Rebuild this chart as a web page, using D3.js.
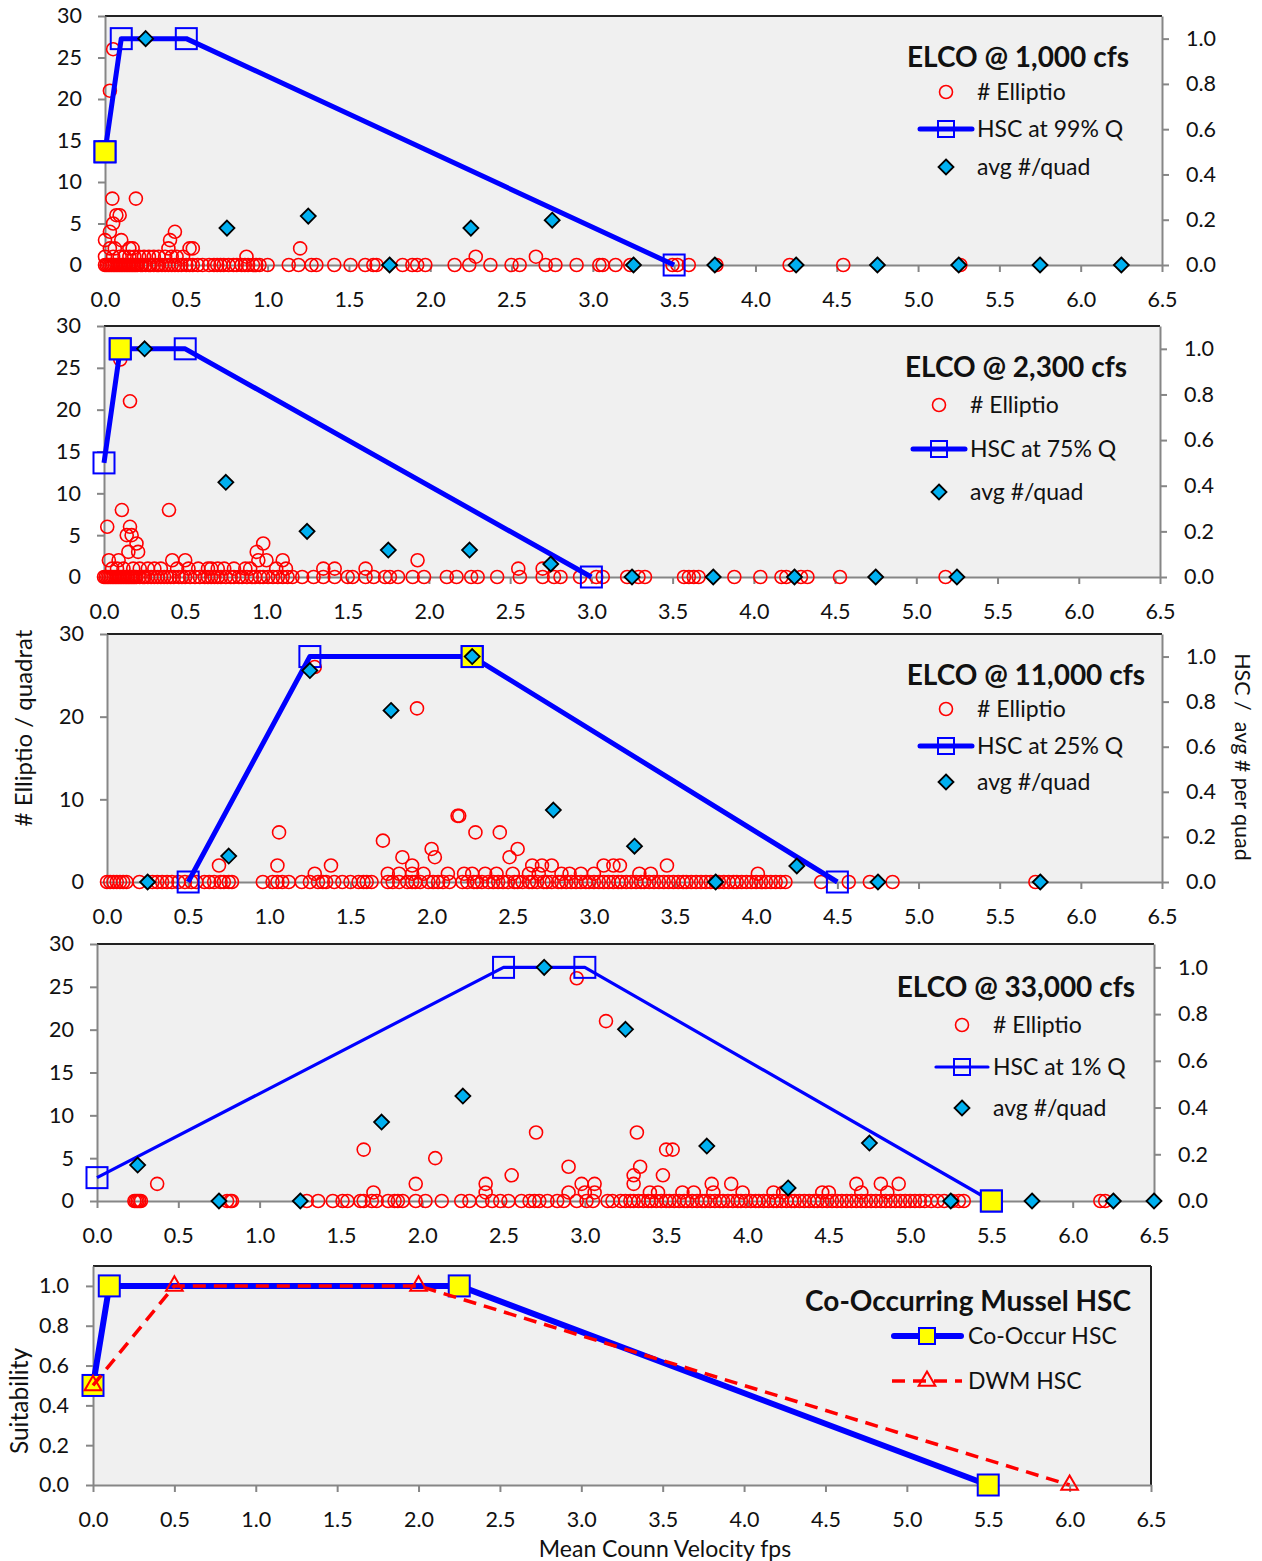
<!DOCTYPE html>
<html>
<head>
<meta charset="utf-8">
<script src="https://cdn.jsdelivr.net/npm/d3@7"></script>
<style>
body { margin: 0; background: #fff; }
</style>
</head>
<body>
<svg id="chart" width="1262" height="1561"></svg>
<script>
var FONT = "Lato, 'Open Sans', sans-serif";

// tick labels
var xTicks = [0.0, 0.5, 1.0, 1.5, 2.0, 2.5, 3.0, 3.5, 4.0, 4.5, 5.0, 5.5, 6.0, 6.5];
var countTicks = [0, 5, 10, 15, 20, 25, 30];
var countTicks10 = [0, 10, 20, 30];
var hscTicks = [0.0, 0.2, 0.4, 0.6, 0.8, 1.0];

var titles = ["ELCO @ 1,000 cfs", "ELCO @ 2,300 cfs", "ELCO @ 11,000 cfs", "ELCO @ 33,000 cfs"];
var hscNames = ["HSC at 99% Q", "HSC at 75% Q", "HSC at 25% Q", "HSC at 1% Q"];

// ---- 1,000 cfs ----
var p1Zero = [0.00,0.01,0.02,0.03,0.04,0.05,0.06,0.07,0.08,0.09,0.10,0.11,0.12,0.13,0.14,0.15,0.16,0.17,0.18,0.19,0.20,0.22,0.23,0.25,0.27,0.28,0.30,0.32,0.33,0.35,0.37,0.39,0.41,0.43,0.45,0.47,0.50,0.52,0.54,0.57,0.60,0.64,0.67,0.69,0.71,0.73,0.76,0.79,0.81,0.84,0.86,0.88,0.91,0.93,0.95,1.00,1.13,1.19,1.27,1.30,1.41,1.51,1.60,1.65,1.67,1.83,1.89,1.92,1.97,2.15,2.24,2.37,2.50,2.55,2.71,2.77,2.90,3.04,3.06,3.14,3.23,3.49,3.52,3.59,3.76,4.21,4.54,5.26];
var p1Count = [[0.05,26],[0.03,21],[0.045,8],[0.19,8],[0.07,6],[0.09,6],[0.05,5],[0.03,4],[0.43,4],[0.40,3],[0.00,3],[0.10,3],[0.03,2],[0.06,2],[0.15,2],[0.17,2],[0.39,2],[0.52,2],[0.54,2],[1.20,2],[0.00,1],[0.05,1],[0.09,1],[0.12,1],[0.15,1],[0.18,1],[0.21,1],[0.24,1],[0.27,1],[0.30,1],[0.33,1],[0.37,1],[0.41,1],[0.44,1],[0.48,1],[0.87,1],[2.28,1],[2.65,1]];
var p1Hsc = [[0,0.5],[0.1,1.0],[0.5,1.0],[3.5,0]];
var p1Co = [[0,0.5]];
var p1Avg = [[0.25,1.0],[0.75,0.163],[1.25,0.216],[1.75,0],[2.25,0.163],[2.75,0.198],[3.25,0],[3.75,0],[4.25,0],[4.75,0],[5.25,0],[5.75,0],[6.25,0]];

// ---- 2,300 cfs ----
var p2Zero = [0.00,0.01,0.02,0.03,0.04,0.05,0.06,0.07,0.08,0.09,0.10,0.11,0.12,0.13,0.14,0.15,0.16,0.17,0.18,0.19,0.20,0.22,0.24,0.25,0.27,0.29,0.31,0.33,0.35,0.37,0.39,0.41,0.43,0.46,0.48,0.50,0.53,0.56,0.59,0.62,0.64,0.66,0.68,0.70,0.72,0.75,0.78,0.80,0.83,0.85,0.88,0.91,0.93,0.96,0.98,1.01,1.04,1.07,1.10,1.13,1.16,1.22,1.29,1.35,1.42,1.50,1.53,1.61,1.66,1.73,1.76,1.81,1.90,1.97,2.11,2.17,2.26,2.30,2.42,2.56,2.70,2.77,2.81,2.93,3.03,3.07,3.22,3.29,3.33,3.57,3.60,3.63,3.66,3.88,4.04,4.17,4.20,4.29,4.33,4.53,5.18];
var p2Count = [[0.10,26],[0.16,21],[0.11,8],[0.40,8],[0.02,6],[0.16,6],[0.17,5],[0.14,5],[0.20,4],[0.15,3],[0.21,3],[0.98,4],[0.94,3],[0.03,2],[0.09,2],[0.42,2],[0.50,2],[0.95,2],[1.00,2],[1.10,2],[1.93,2],[0.05,1],[0.08,1],[0.12,1],[0.18,1],[0.22,1],[0.27,1],[0.31,1],[0.35,1],[0.45,1],[0.52,1],[0.58,1],[0.64,1],[0.66,1],[0.70,1],[0.74,1],[0.80,1],[0.87,1],[0.90,1],[1.06,1],[1.12,1],[1.35,1],[1.42,1],[1.61,1],[2.55,1],[2.70,1]];
var p2Hsc = [[0,0.5],[0.1,1.0],[0.5,1.0],[3.0,0]];
var p2Co = [[0.1,1.0]];
var p2Avg = [[0.25,1.0],[0.75,0.415],[1.25,0.20],[1.75,0.118],[2.25,0.118],[2.75,0.057],[3.25,0],[3.75,0],[4.25,0],[4.75,0],[5.25,0]];

// ---- 11,000 cfs ----
var p3Zero = [0.00,0.02,0.04,0.06,0.08,0.10,0.12,0.20,0.28,0.31,0.34,0.37,0.40,0.44,0.48,0.52,0.55,0.60,0.63,0.66,0.70,0.72,0.75,0.77,0.96,1.02,1.05,1.08,1.12,1.20,1.25,1.30,1.33,1.35,1.40,1.45,1.50,1.55,1.58,1.60,1.63,1.73,1.76,1.80,1.85,1.88,1.90,1.93,1.98,2.01,2.04,2.07,2.11,2.19,2.22,2.26,2.28,2.31,2.35,2.38,2.41,2.44,2.47,2.51,2.53,2.56,2.60,2.62,2.65,2.69,2.71,2.74,2.78,2.80,2.83,2.86,2.89,2.92,2.95,2.97,3.00,3.03,3.06,3.09,3.12,3.15,3.17,3.20,3.23,3.26,3.29,3.31,3.34,3.37,3.40,3.43,3.46,3.49,3.52,3.55,3.57,3.60,3.63,3.66,3.69,3.72,3.75,3.77,3.80,3.83,3.86,3.88,3.91,3.94,3.97,4.00,4.03,4.06,4.09,4.12,4.15,4.18,4.40,4.57,4.70,4.84,5.72];
var p3Count = [[0.69,2],[1.06,6],[1.05,2],[1.28,26],[1.28,1],[1.38,2],[1.70,5],[1.91,21],[1.82,3],[1.88,2],[2.00,4],[2.02,3],[1.73,1],[1.80,1],[1.88,1],[1.95,1],[2.10,1],[2.16,8],[2.17,8],[2.27,6],[2.42,6],[2.53,4],[2.48,3],[2.62,2],[2.68,2],[2.74,2],[3.06,2],[3.12,2],[3.16,2],[3.45,2],[2.20,1],[2.25,1],[2.33,1],[2.40,1],[2.50,1],[2.60,1],[2.66,1],[2.80,1],[2.85,1],[2.92,1],[3.00,1],[3.28,1],[3.35,1],[4.01,1]];
var p3Hsc = [[0.5,0],[1.25,1.0],[2.25,1.0],[4.5,0]];
var p3Co = [[2.25,1.0]];
var p3Avg = [[0.25,0],[0.75,0.115],[1.25,0.938],[1.75,0.761],[2.25,1.0],[2.75,0.319],[3.25,0.159],[3.75,0],[4.25,0.071],[4.75,0],[5.75,0]];

// ---- 33,000 cfs ----
var p4Zero = [0.23,0.24,0.25,0.26,0.27,0.80,0.82,0.83,1.29,1.36,1.45,1.51,1.54,1.62,1.64,1.69,1.72,1.79,1.83,1.85,1.88,1.96,2.02,2.12,2.24,2.29,2.37,2.43,2.48,2.53,2.61,2.66,2.69,2.72,2.77,2.83,2.87,2.95,3.01,3.05,3.14,3.17,3.22,3.25,3.28,3.30,3.33,3.36,3.39,3.41,3.44,3.47,3.50,3.52,3.55,3.58,3.61,3.63,3.66,3.69,3.72,3.74,3.77,3.80,3.83,3.85,3.88,3.91,3.94,3.96,3.99,4.02,4.05,4.07,4.10,4.13,4.16,4.18,4.21,4.24,4.27,4.29,4.32,4.35,4.38,4.41,4.43,4.46,4.49,4.52,4.55,4.58,4.61,4.64,4.67,4.70,4.73,4.76,4.79,4.82,4.85,4.88,4.91,4.94,4.97,5.00,5.03,5.06,5.09,5.13,5.17,5.21,5.26,5.30,5.33,6.17,6.20];
var p4Count = [[0.37,2],[1.64,6],[1.70,1],[1.96,2],[2.08,5],[2.39,2],[2.39,1],[2.55,3],[2.70,8],[2.90,4],[2.98,2],[3.06,2],[2.90,1],[3.00,1],[3.06,1],[2.95,26],[3.13,21],[3.32,8],[3.50,6],[3.54,6],[3.34,4],[3.30,3],[3.48,3],[3.30,2],[3.78,2],[3.90,2],[3.40,1],[3.45,1],[3.60,1],[3.67,1],[3.79,1],[3.97,1],[4.16,1],[4.22,1],[4.46,1],[4.50,1],[4.67,2],[4.82,2],[4.93,2],[4.70,1],[4.86,1]];
var p4Hsc = [[0,0.1],[2.5,1.0],[3.0,1.0],[5.5,0]];
var p4Co = [[5.5,0]];
var p4Avg = [[0.25,0.154],[0.75,0],[1.25,0],[1.75,0.338],[2.25,0.449],[2.75,1.0],[3.25,0.735],[3.75,0.235],[4.25,0.056],[4.75,0.248],[5.25,0],[5.75,0],[6.25,0],[6.5,0]];

// ---- combined HSC ----
var coOccurHsc = [[0,0.5],[0.1,1.0],[2.25,1.0],[5.5,0]];
var dwmHsc = [[0,0.5],[0.5,1.0],[2.0,1.0],[6.0,0]];

var svg = d3.select("#chart");

var panels = [
  {left:105, right:1162, top:16,  bottom:265, yTicks:countTicks,   lw:5,   zero:p1Zero, count:p1Count, hsc:p1Hsc, co:p1Co, avg:p1Avg,
   leg:{titleX:1129, titleY:57,  mx:946, tx:977, rows:[92,129,167]}},
  {left:104, right:1160, top:326, bottom:577, yTicks:countTicks,   lw:5,   zero:p2Zero, count:p2Count, hsc:p2Hsc, co:p2Co, avg:p2Avg,
   leg:{titleX:1127, titleY:367, mx:939, tx:970, rows:[405,449,492]}},
  {left:107, right:1162, top:634, bottom:882, yTicks:countTicks10, lw:5,   zero:p3Zero, count:p3Count, hsc:p3Hsc, co:p3Co, avg:p3Avg,
   leg:{titleX:1145, titleY:675, mx:946, tx:977, rows:[709,746,782]}},
  {left:97,  right:1154, top:944, bottom:1201, yTicks:countTicks,  lw:3.2, zero:p4Zero, count:p4Count, hsc:p4Hsc, co:p4Co, avg:p4Avg,
   leg:{titleX:1135, titleY:987, mx:962, tx:993, rows:[1025,1067,1108]}}
];

function styleAxis(g) {
  g.attr("font-family", FONT).attr("font-size", 21.5);
  g.select(".domain").attr("stroke", "#868686").attr("stroke-width", 2);
  g.selectAll(".tick line").attr("stroke", "#868686").attr("stroke-width", 2);
  g.selectAll(".tick text").attr("fill", "#111");
}

function frame(g, p, xs, blackRight) {
  g.append("rect")
    .attr("x", p.left).attr("y", p.top)
    .attr("width", p.right - p.left).attr("height", p.bottom - p.top)
    .attr("fill", "#f0f0f0");
  g.append("line")
    .attr("x1", p.left).attr("x2", p.right).attr("y1", p.top).attr("y2", p.top)
    .attr("stroke", "#222").attr("stroke-width", 2);
  if (blackRight) {
    g.append("line")
      .attr("x1", p.right).attr("x2", p.right).attr("y1", p.top).attr("y2", p.bottom)
      .attr("stroke", "#222").attr("stroke-width", 2);
  }
  g.append("g")
    .attr("transform", "translate(0," + p.bottom + ")")
    .call(d3.axisBottom(xs).tickValues(xTicks).tickFormat(d3.format(".1f"))
      .tickSize(7).tickSizeOuter(0).tickPadding(20))
    .call(styleAxis);
}

function diamond(sel) {
  sel.attr("d", "M0,-7.5L7.5,0L0,7.5L-7.5,0Z")
    .attr("fill", "#00B0F0").attr("stroke", "#000").attr("stroke-width", 1.8);
}

function drawPanel(p, i) {
  var g = svg.append("g");
  var x = d3.scaleLinear().domain([0, 6.5]).range([p.left, p.right]);
  var y = d3.scaleLinear().domain([0, 30]).range([p.bottom, p.top]);
  var y2 = d3.scaleLinear().domain([0, 1.1]).range([p.bottom, p.top]);

  frame(g, p, x, false);
  g.append("g")
    .attr("transform", "translate(" + p.left + ",0)")
    .call(d3.axisLeft(y).tickValues(p.yTicks).tickSize(7).tickSizeOuter(0).tickPadding(16))
    .call(styleAxis);
  g.append("g")
    .attr("transform", "translate(" + p.right + ",0)")
    .call(d3.axisRight(y2).tickValues(hscTicks).tickFormat(d3.format(".1f"))
      .tickSize(7).tickSizeOuter(0).tickPadding(17))
    .call(styleAxis);

  // # Elliptio per quadrat
  var pts = p.zero.map(function(v) { return [v, 0]; }).concat(p.count);
  g.append("g").selectAll("circle")
    .data(pts)
    .enter().append("circle")
      .attr("cx", function(d) { return x(d[0]); })
      .attr("cy", function(d) { return y(d[1]); })
      .attr("r", 6.5)
      .attr("fill", "none").attr("stroke", "#FF0000").attr("stroke-width", 1.6);

  // HSC line
  var line = d3.line().x(function(d) { return x(d[0]); }).y(function(d) { return y2(d[1]); });
  g.append("path").datum(p.hsc)
    .attr("d", line).attr("fill", "none")
    .attr("stroke", "#0000FF").attr("stroke-width", p.lw).attr("stroke-linejoin", "round");
  g.append("g").selectAll("rect")
    .data(p.hsc)
    .enter().append("rect")
      .attr("x", function(d) { return x(d[0]) - 10.5; })
      .attr("y", function(d) { return y2(d[1]) - 10.5; })
      .attr("width", 21).attr("height", 21)
      .attr("fill", "none").attr("stroke", "#0000FF").attr("stroke-width", 2);
  g.append("g").selectAll("rect")
    .data(p.co)
    .enter().append("rect")
      .attr("x", function(d) { return x(d[0]) - 10.5; })
      .attr("y", function(d) { return y2(d[1]) - 10.5; })
      .attr("width", 21).attr("height", 21)
      .attr("fill", "#FFFF00").attr("stroke", "#0000FF").attr("stroke-width", 2);

  // avg #/quad
  g.append("g").selectAll("path")
    .data(p.avg)
    .enter().append("path")
      .attr("transform", function(d) { return "translate(" + x(d[0]) + "," + y2(d[1]) + ")"; })
      .call(diamond);

  // legend
  var L = p.leg;
  g.append("text")
    .attr("x", L.titleX).attr("y", L.titleY).attr("dy", "0.35em")
    .attr("text-anchor", "end").attr("font-family", FONT)
    .attr("font-size", 28).attr("font-weight", "bold").attr("fill", "#111")
    .text(titles[i]);
  g.append("circle").attr("cx", L.mx).attr("cy", L.rows[0]).attr("r", 6.5)
    .attr("fill", "none").attr("stroke", "#FF0000").attr("stroke-width", 1.6);
  g.append("line").attr("x1", L.mx - 26).attr("x2", L.mx + 26)
    .attr("y1", L.rows[1]).attr("y2", L.rows[1])
    .attr("stroke", "#0000FF").attr("stroke-width", p.lw).attr("stroke-linecap", "round");
  g.append("rect").attr("x", L.mx - 8).attr("y", L.rows[1] - 8).attr("width", 16).attr("height", 16)
    .attr("fill", "none").attr("stroke", "#0000FF").attr("stroke-width", 2);
  g.append("path").attr("transform", "translate(" + L.mx + "," + L.rows[2] + ")").call(diamond);
  var labels = ["# Elliptio", hscNames[i], "avg #/quad"];
  labels.forEach(function(t, k) {
    g.append("text")
      .attr("x", L.tx).attr("y", L.rows[k]).attr("dy", "0.35em")
      .attr("font-family", FONT).attr("font-size", 23).attr("fill", "#111")
      .text(t);
  });
}

panels.forEach(drawPanel);

// ---- co-occurring panel ----
var p5 = {left:93, right:1151, top:1266, bottom:1485};
var g5 = svg.append("g");
var x5 = d3.scaleLinear().domain([0, 6.5]).range([p5.left, p5.right]);
var y5 = d3.scaleLinear().domain([0, 1.1]).range([p5.bottom, p5.top]);
frame(g5, p5, x5, true);
g5.append("g")
  .attr("transform", "translate(" + p5.left + ",0)")
  .call(d3.axisLeft(y5).tickValues(hscTicks).tickFormat(d3.format(".1f"))
    .tickSize(7).tickSizeOuter(0).tickPadding(17))
  .call(styleAxis);

var line5 = d3.line().x(function(d) { return x5(d[0]); }).y(function(d) { return y5(d[1]); });
g5.append("path").datum(coOccurHsc)
  .attr("d", line5).attr("fill", "none")
  .attr("stroke", "#0000FF").attr("stroke-width", 6).attr("stroke-linejoin", "round");
g5.append("g").selectAll("rect")
  .data(coOccurHsc)
  .enter().append("rect")
    .attr("x", function(d) { return x5(d[0]) - 10.5; })
    .attr("y", function(d) { return y5(d[1]) - 10.5; })
    .attr("width", 21).attr("height", 21)
    .attr("fill", "#FFFF00").attr("stroke", "#0000FF").attr("stroke-width", 2);
g5.append("path").datum(dwmHsc)
  .attr("d", line5).attr("fill", "none")
  .attr("stroke", "#FF0000").attr("stroke-width", 3.5).attr("stroke-dasharray", "13,8");
var tri = d3.symbol().type(d3.symbolTriangle).size(120);
g5.append("g").selectAll("path")
  .data(dwmHsc)
  .enter().append("path")
    .attr("d", tri)
    .attr("transform", function(d) { return "translate(" + x5(d[0]) + "," + y5(d[1]) + ")"; })
    .attr("fill", "none").attr("stroke", "#FF0000").attr("stroke-width", 2);

g5.append("text")
  .attr("x", 1131).attr("y", 1301).attr("dy", "0.35em")
  .attr("text-anchor", "end").attr("font-family", FONT)
  .attr("font-size", 28).attr("font-weight", "bold").attr("fill", "#111")
  .text("Co-Occurring Mussel HSC");
g5.append("line").attr("x1", 894).attr("x2", 961).attr("y1", 1336).attr("y2", 1336)
  .attr("stroke", "#0000FF").attr("stroke-width", 6).attr("stroke-linecap", "round");
g5.append("rect").attr("x", 919).attr("y", 1328).attr("width", 16).attr("height", 16)
  .attr("fill", "#FFFF00").attr("stroke", "#0000FF").attr("stroke-width", 2);
g5.append("line").attr("x1", 892).attr("x2", 962).attr("y1", 1381).attr("y2", 1381)
  .attr("stroke", "#FF0000").attr("stroke-width", 3.5).attr("stroke-dasharray", "13,8");
g5.append("path").attr("d", tri).attr("transform", "translate(927,1381)")
  .attr("fill", "none").attr("stroke", "#FF0000").attr("stroke-width", 2);
g5.append("text").attr("x", 968).attr("y", 1336).attr("dy", "0.35em")
  .attr("font-family", FONT).attr("font-size", 23).attr("fill", "#111").text("Co-Occur HSC");
g5.append("text").attr("x", 968).attr("y", 1381).attr("dy", "0.35em")
  .attr("font-family", FONT).attr("font-size", 23).attr("fill", "#111").text("DWM HSC");

// axis titles
svg.append("text")
  .attr("transform", "translate(24,728) rotate(-90)").attr("dy", "0.35em")
  .attr("text-anchor", "middle").attr("font-family", FONT).attr("font-size", 24).attr("fill", "#111")
  .text("# Elliptio / quadrat");
svg.append("text")
  .attr("transform", "translate(1243,757) rotate(90)").attr("dy", "0.35em")
  .attr("text-anchor", "middle").attr("font-family", FONT).attr("font-size", 21.5).attr("fill", "#111")
  .style("white-space", "pre")
  .text("HSC /  avg # per quad");
svg.append("text")
  .attr("transform", "translate(19,1401) rotate(-90)").attr("dy", "0.35em")
  .attr("text-anchor", "middle").attr("font-family", FONT).attr("font-size", 24.5).attr("fill", "#111")
  .text("Suitability");
svg.append("text")
  .attr("x", 665).attr("y", 1549).attr("dy", "0.35em")
  .attr("text-anchor", "middle").attr("font-family", FONT).attr("font-size", 23).attr("fill", "#111")
  .text("Mean Counn Velocity fps");
</script>
</body>
</html>
